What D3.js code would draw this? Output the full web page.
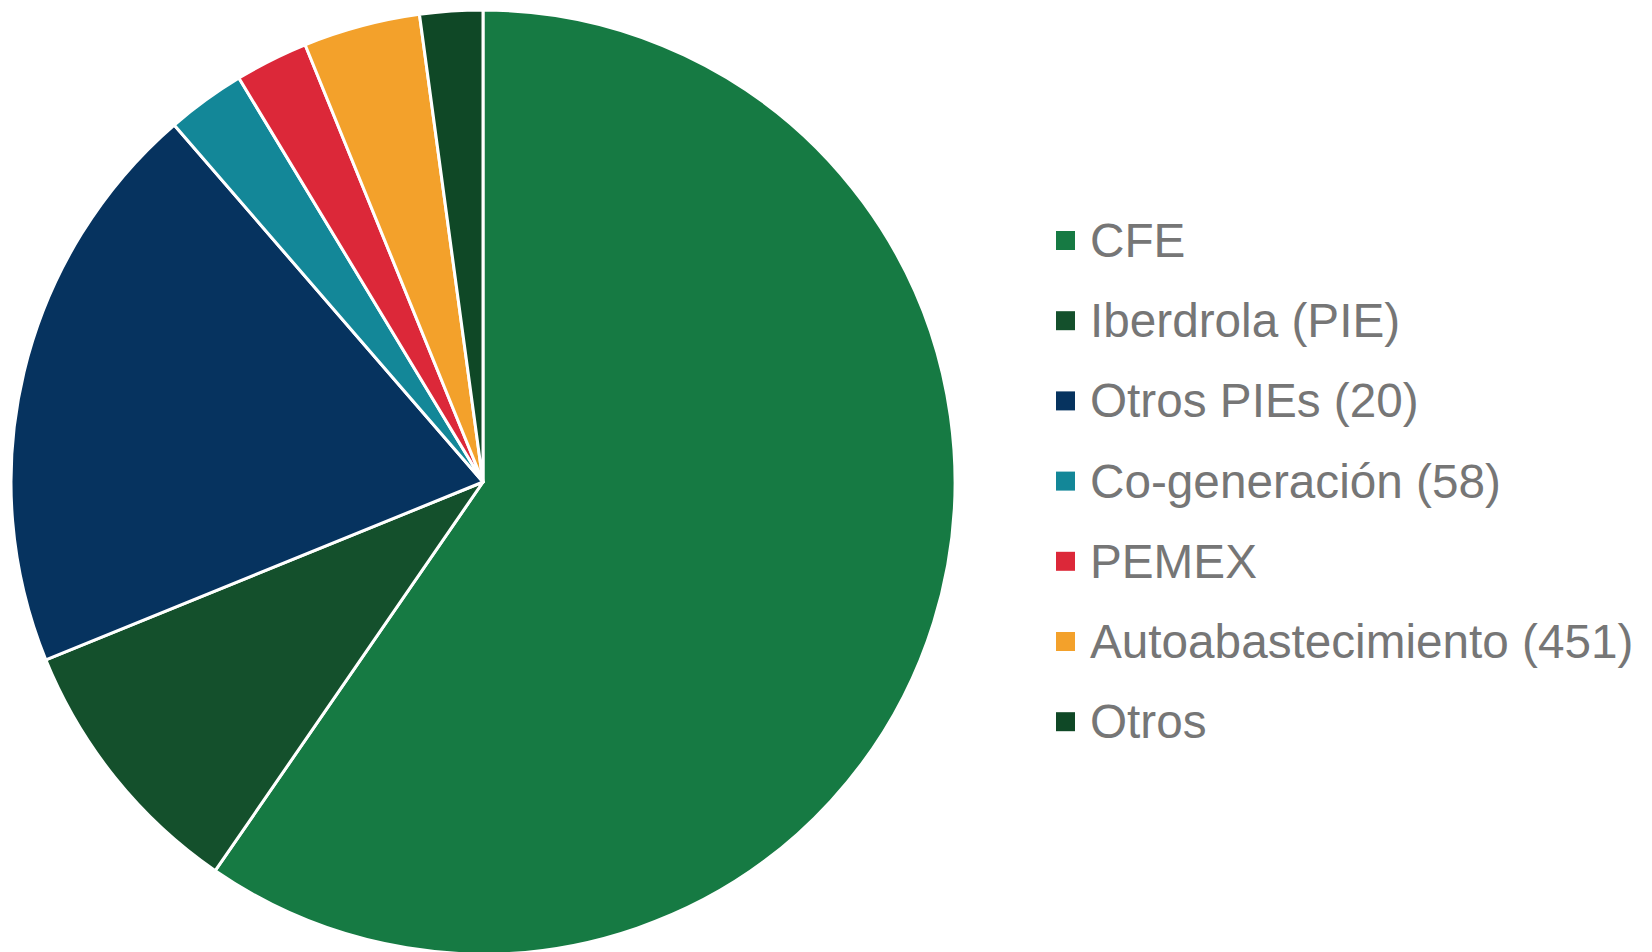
<!DOCTYPE html>
<html>
<head>
<meta charset="utf-8">
<script src="https://cdn.jsdelivr.net/npm/d3@7"></script>
<style>
  body { margin: 0; background: #fff; }
  text { font-family: "Liberation Sans", Arial, sans-serif; }
</style>
</head>
<body>
<div id="chart"></div>
<script>
// Data (share of total, %)
var categories = ["CFE", "Iberdrola (PIE)", "Otros PIEs (20)", "Co-generación (58)", "PEMEX", "Autoabastecimiento (451)", "Otros"];
var values = [59.6, 9.25, 19.8, 2.7, 2.5, 4.0, 2.15];
var colors = ["#167a43", "#14502c", "#06335f", "#138798", "#dc2839", "#f3a12b", "#0f4826"];

var width = 1652, height = 952;
var cx = 483, cy = 482, radius = 472;

var svg = d3.select("#chart").append("svg")
    .attr("width", width)
    .attr("height", height);

var cScale = d3.scaleOrdinal()
    .domain(categories)
    .range(colors);

var pie = d3.pie()
    .sort(null)
    .value(function(d) { return d.value; });

var arc = d3.arc()
    .innerRadius(0)
    .outerRadius(radius);

var data = categories.map(function(c, i) { return {name: c, value: values[i]}; });

// Pie slices
var pieG = svg.append("g")
    .attr("transform", "translate(" + [cx, cy] + ")");

pieG.selectAll("path")
    .data(pie(data))
    .enter()
    .append("path")
    .attr("d", arc)
    .style("fill", function(d) { return cScale(d.data.name); })
    .style("stroke", "#fff")
    .style("stroke-width", 3)
    .style("stroke-linejoin", "round");

// Legend
var legendX = 1056, legendY = 257, rowH = 80.2;
var legend = svg.append("g").attr("class", "legend");

var rows = legend.selectAll("g")
    .data(categories)
    .enter()
    .append("g")
    .attr("transform", function(d, i) { return "translate(" + [legendX, legendY + i * rowH] + ")"; });

rows.append("rect")
    .attr("x", 0)
    .attr("y", -26)
    .attr("width", 19)
    .attr("height", 19)
    .style("fill", function(d) { return cScale(d); });

rows.append("text")
    .attr("x", 34)
    .attr("y", 0)
    .style("font-size", "47.7px")
    .style("fill", "#767676")
    .text(function(d) { return d; });
</script>
</body>
</html>
